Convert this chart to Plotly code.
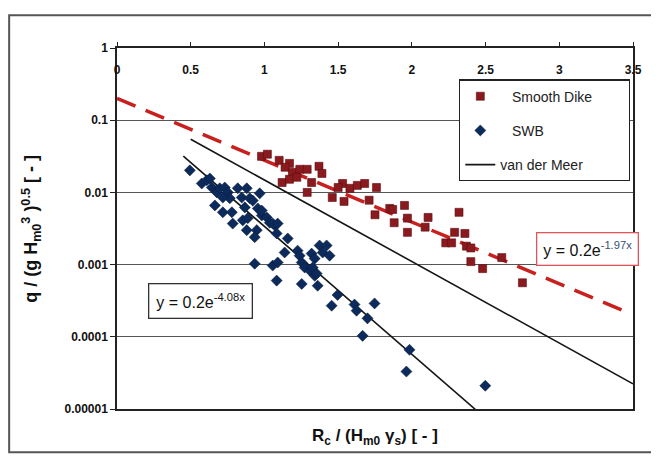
import numpy as np
import plotly.graph_objects as go

# ---- data ----
smooth_x = [0.98, 1.02, 1.10, 1.17, 1.14, 1.19, 1.24, 1.29, 1.37, 1.39, 1.12, 1.17, 1.22, 1.32,
            1.29, 1.46, 1.53, 1.54, 1.50, 1.58, 1.63, 1.68, 1.76, 1.71, 1.75, 1.85, 1.88, 1.87,
            1.95, 1.97, 1.97, 2.09, 2.11, 2.32, 2.29, 2.23, 2.36, 2.37, 2.40, 2.40, 2.48, 2.61,
            2.75, 2.27]
smooth_y = [0.0316, 0.0338, 0.0278, 0.0252, 0.0223, 0.0190, 0.0209, 0.0209, 0.0230, 0.0183, 0.0137,
            0.0152, 0.0162, 0.0137, 0.0100, 0.0085, 0.0133, 0.0075, 0.0117, 0.0114, 0.0125, 0.0133,
            0.0117, 0.0078, 0.0049, 0.0060, 0.0038, 0.0058, 0.0066, 0.0044, 0.0028, 0.0033, 0.0045,
            0.0053, 0.0028, 0.0020, 0.0027, 0.0018, 0.0017, 0.0011, 0.00088, 0.00125, 0.00056, 0.0020]

swb_x = [0.494, 0.575, 0.609, 0.630, 0.643, 0.677, 0.697, 0.731, 0.752, 0.765, 0.718, 0.664, 0.718,
         0.779, 0.785, 0.819, 0.880, 0.846, 0.900, 0.968, 0.853, 0.887, 0.880, 0.948, 0.955, 0.982,
         1.016, 1.036, 1.070, 0.934, 0.921, 0.867, 0.982, 1.056, 1.090, 1.083, 1.158, 1.137, 1.225,
         1.239, 1.253, 1.320, 1.341, 1.374, 1.422, 1.395, 1.273, 1.307, 1.327, 0.934, 1.056, 1.090,
         1.083, 1.253, 1.341, 1.361, 1.354, 1.442, 1.496, 1.456, 1.611, 1.625, 1.699, 1.747, 1.666,
         1.984, 1.963, 2.498]
swb_y = [0.0202, 0.0133, 0.0147, 0.0156, 0.0117, 0.0100, 0.0114, 0.0117, 0.0100, 0.0083, 0.0085,
         0.0066, 0.0053, 0.0053, 0.0037, 0.0114, 0.0114, 0.0085, 0.0083, 0.0097, 0.0041, 0.0044,
         0.0030, 0.0030, 0.0060, 0.0048, 0.0045, 0.0038, 0.0035, 0.0024, 0.0077, 0.0062, 0.0056,
         0.0037, 0.0037, 0.0027, 0.0023, 0.00147, 0.00156, 0.00133, 0.00107, 0.00142, 0.00121,
         0.00184, 0.00184, 0.00147, 0.00091, 0.00083, 0.00091, 0.00103, 0.00097, 0.00107, 0.0006,
         0.00054, 0.0007, 0.00051, 0.00075, 0.00133, 0.00038, 0.00027, 0.00028, 0.00023, 0.00018,
         0.00029, 0.000103, 0.000066, 0.000033, 0.000021]

# trend lines as given by the equations on the chart: y = a * exp(-b x)
smooth_fit = dict(a=0.2, b=1.97, x=[0.0, 3.46])
swb_fit = dict(a=0.2, b=4.08, x=[0.45, 2.43])
vdm_fit = dict(a=0.2, b=2.6, x=[0.5, 3.5])

x_ticks = [0, 0.5, 1, 1.5, 2, 2.5, 3, 3.5]
x_tick_text = ["0", "0.5", "1", "1.5", "2", "2.5", "3", "3.5"]
y_ticks = [1, 0.1, 0.01, 0.001, 0.0001, 0.00001]
y_tick_text = ["1", "0.1", "0.01", "0.001", "0.0001", "0.00001"]


def fit_line(f):
    xs = np.array(f["x"])
    return xs, f["a"] * np.exp(-f["b"] * xs)


FONT = "Arial, Liberation Sans, sans-serif"
NB = "\u00a0"
fig = go.Figure()

xs, ys = fit_line(smooth_fit)
fig.add_trace(go.Scatter(x=xs, y=ys, mode="lines", showlegend=False,
                         line=dict(color="#c8201e", width=3.5, dash="20px,11px")))
xs, ys = fit_line(swb_fit)
fig.add_trace(go.Scatter(x=xs, y=ys, mode="lines", showlegend=False,
                         line=dict(color="#151515", width=1.6)))

fig.add_trace(go.Scatter(x=smooth_x, y=smooth_y, mode="markers",
                         name=NB * 3 + "Smooth Dike" + NB * 8,
                         legendgroup="a",
                         marker=dict(symbol="square", size=8, color="#8b1a1f",
                                     line=dict(color="#5a0d10", width=0.6))))
fig.add_trace(go.Scatter(x=swb_x, y=swb_y, mode="markers", name=NB * 3 + "SWB",
                         legendgroup="b",
                         marker=dict(symbol="diamond", size=8.5, color="#0d2a5c",
                                     line=dict(color="#071a3a", width=0.5))))
xs, ys = fit_line(vdm_fit)
fig.add_trace(go.Scatter(x=xs, y=ys, mode="lines", name="van der Meer", legendgroup="c",
                         line=dict(color="#151515", width=1.6)))

# invisible helper trace carrying the tick-label axis drawn just inside the top edge
fig.add_trace(go.Scatter(x=[x_ticks[0], x_ticks[-1]], y=[1, 1], xaxis="x2", mode="markers",
                         marker=dict(opacity=0), showlegend=False, hoverinfo="skip"))

# the page body has an 8px margin, so the figure is drawn 8px smaller with margins shifted
fig.update_layout(
    width=651, height=449,
    margin=dict(l=109, r=26, t=40, b=48),
    paper_bgcolor="white", plot_bgcolor="white",
    font=dict(family=FONT, color="#111"),
    showlegend=True,
    legend=dict(x=0.663, y=0.913, xanchor="left", yanchor="top",
                bordercolor="#222", borderwidth=1.2, bgcolor="white",
                font=dict(size=14, family=FONT, color="#222"),
                tracegroupgap=13, itemwidth=30),
    xaxis=dict(type="linear", range=[0, 3.5], side="top",
               tickvals=x_ticks, showticklabels=False,
               ticks="outside", ticklen=4, tickcolor="#222",
               showline=True, linecolor="#222", linewidth=1.5, mirror=True,
               showgrid=False, zeroline=False),
    xaxis2=dict(type="linear", range=[0, 3.5], overlaying="x", anchor="free",
                position=0.964, side="bottom",
                tickvals=x_ticks, ticktext=x_tick_text, ticks="",
                tickfont=dict(size=12, family=FONT, color="#111", weight="bold"),
                showline=False, showgrid=False, zeroline=False),
    yaxis=dict(type="log", range=[-5, 0],
               tickvals=y_ticks, ticktext=y_tick_text,
               ticks="outside", ticklen=5, tickcolor="#222",
               tickfont=dict(size=12, family=FONT, color="#111", weight="bold"),
               showline=True, linecolor="#222", linewidth=1.5, mirror=True,
               showgrid=True, gridcolor="#555", gridwidth=1.3, zeroline=False),
)

# axis titles
fig.add_annotation(xref="paper", yref="paper", x=-0.166, y=0.5, textangle=-90,
                   xanchor="center", yanchor="middle", showarrow=False,
                   text="<b>q / (g H<sub>m0</sub><sup>3</sup> )<sup>0.5</sup> [ - ]</b>",
                   font=dict(size=18, family=FONT, color="#111"))
fig.add_annotation(xref="paper", yref="paper", x=0.5, y=-0.078, xanchor="center",
                   yanchor="middle", showarrow=False,
                   text="<b>R<sub>c</sub> / (H<sub>m0</sub> γ<sub>s</sub>) [ - ]</b>",
                   font=dict(size=17, family=FONT, color="#111"))

# equation boxes
fig.add_annotation(x=0.565, y=-3.51, xref="x", yref="y", showarrow=False,
                   text="y = 0.2e<sup>-4.08x</sup>",
                   font=dict(size=16, family=FONT, color="#111"),
                   bordercolor="#333", borderwidth=1.3, borderpad=7, bgcolor="white")
fig.add_annotation(x=3.19, y=-2.78, xref="x", yref="y", showarrow=False,
                   text="y = 0.2e<sup><span style='color:#33507a'>-1.97x</span></sup>",
                   font=dict(size=16, family=FONT, color="#111"),
                   bordercolor="#e0555a", borderwidth=1.3, borderpad=6, bgcolor="white")

# outer chart frame
fig.add_shape(type="rect", xref="paper", yref="paper", x0=-0.209, x1=1.045, y0=-0.12, y1=1.091,
              line=dict(color="#555", width=2), layer="below")

fig.write_html("out.html")
